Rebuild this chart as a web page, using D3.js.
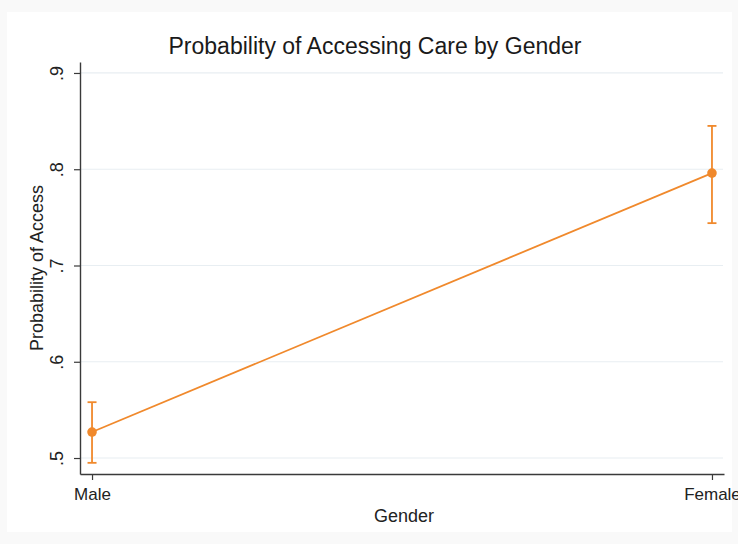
<!DOCTYPE html>
<html>
<head>
<meta charset="utf-8">
<script src="https://cdn.jsdelivr.net/npm/d3@7"></script>
<style>
  html, body { margin: 0; padding: 0; background: #ffffff; }
  svg { display: block; font-family: "Liberation Sans", Arial, Helvetica, sans-serif; }
</style>
</head>
<body>
<svg id="chart" width="738" height="544"></svg>
<script>
// Predictive margins with 95% confidence intervals
const categories = ["Male", "Female"];
const margins = [0.527, 0.796];
const ciLower = [0.495, 0.744];
const ciUpper = [0.558, 0.845];
const yTicks = [0.5, 0.6, 0.7, 0.8, 0.9];

const titleText = "Probability of Accessing Care by Gender";
const xTitle = "Gender";
const yTitle = "Probability of Access";

const W = 738, H = 544;
const plot = { left: 80, right: 724, top: 62, bottom: 474 };
const orange = "#f0892c";

const svg = d3.select("#chart");

// outer graph region
svg.append("rect").attr("x", 0).attr("y", 0).attr("width", W).attr("height", H).attr("fill", "#f9f9f9");
svg.append("rect").attr("x", 7).attr("y", 12).attr("width", 725).attr("height", 520).attr("fill", "#ffffff");

const x = d3.scalePoint().domain(categories).range([plot.left, plot.right]).padding(0.0194);
const y = d3.scaleLinear().domain([0.4834, 0.9114]).range([plot.bottom, plot.top]);

// grid lines
svg.append("g").selectAll("line").data(yTicks).join("line")
  .attr("x1", plot.left).attr("x2", plot.right - 1)
  .attr("y1", d => y(d)).attr("y2", d => y(d))
  .attr("stroke", "#e8eef2").attr("stroke-width", 1.2);

const fmt = d => d3.format(".1f")(d).replace(/^0/, "");

// y axis
const yAxis = svg.append("g").attr("transform", `translate(${plot.left},0)`)
  .call(d3.axisLeft(y).tickValues(yTicks).tickFormat(fmt).tickSize(6).tickSizeOuter(0));
yAxis.select(".domain").attr("stroke", "#3a3a3a").attr("stroke-width", 1.4);
yAxis.selectAll(".tick line").attr("stroke", "#3a3a3a").attr("stroke-width", 1.2);
yAxis.selectAll(".tick text")
  .attr("x", 0).attr("dy", 0)
  .attr("transform", "translate(-23,0) rotate(-90)")
  .attr("text-anchor", "middle")
  .attr("dominant-baseline", "central")
  .attr("fill", "#222").style("font-size", "18px")
  .style("font-family", "'Liberation Sans', Arial, sans-serif");

// x axis
const xAxis = svg.append("g").attr("transform", `translate(0,${plot.bottom})`)
  .call(d3.axisBottom(x).tickSize(6).tickSizeOuter(0));
xAxis.select(".domain").attr("stroke", "#3a3a3a").attr("stroke-width", 1.4);
xAxis.selectAll(".tick line").attr("stroke", "#3a3a3a").attr("stroke-width", 1.2);
xAxis.selectAll(".tick text")
  .attr("y", 26).attr("dy", 0)
  .attr("fill", "#222").style("font-size", "17px")
  .style("font-family", "'Liberation Sans', Arial, sans-serif");

// titles
svg.append("text").attr("x", 375).attr("y", 54).attr("text-anchor", "middle")
  .attr("fill", "#1a1a1a").style("font-size", "23px").text(titleText);
svg.append("text").attr("x", 404).attr("y", 522).attr("text-anchor", "middle")
  .attr("fill", "#222").style("font-size", "18px").text(xTitle);
svg.append("text").attr("transform", "translate(43,268) rotate(-90)").attr("text-anchor", "middle")
  .attr("fill", "#222").style("font-size", "18px").text(yTitle);

const pts = categories.map((c, i) => ({ c, m: margins[i], lo: ciLower[i], hi: ciUpper[i] }));

// connecting line
svg.append("path").datum(pts)
  .attr("d", d3.line().x(d => x(d.c)).y(d => y(d.m)))
  .attr("fill", "none").attr("stroke", orange).attr("stroke-width", 1.8);

// confidence interval bars with caps
const ci = svg.append("g").attr("stroke", orange).attr("stroke-width", 1.8);
ci.selectAll(".v").data(pts).join("line")
  .attr("x1", d => x(d.c)).attr("x2", d => x(d.c))
  .attr("y1", d => y(d.lo)).attr("y2", d => y(d.hi));
ci.selectAll(".capHi").data(pts).join("line")
  .attr("x1", d => x(d.c) - 4.5).attr("x2", d => x(d.c) + 4.5)
  .attr("y1", d => y(d.hi)).attr("y2", d => y(d.hi));
ci.selectAll(".capLo").data(pts).join("line")
  .attr("x1", d => x(d.c) - 4.5).attr("x2", d => x(d.c) + 4.5)
  .attr("y1", d => y(d.lo)).attr("y2", d => y(d.lo));

// point estimates
svg.append("g").selectAll("circle").data(pts).join("circle")
  .attr("cx", d => x(d.c)).attr("cy", d => y(d.m)).attr("r", 4.8)
  .attr("fill", orange);
</script>
</body>
</html>
